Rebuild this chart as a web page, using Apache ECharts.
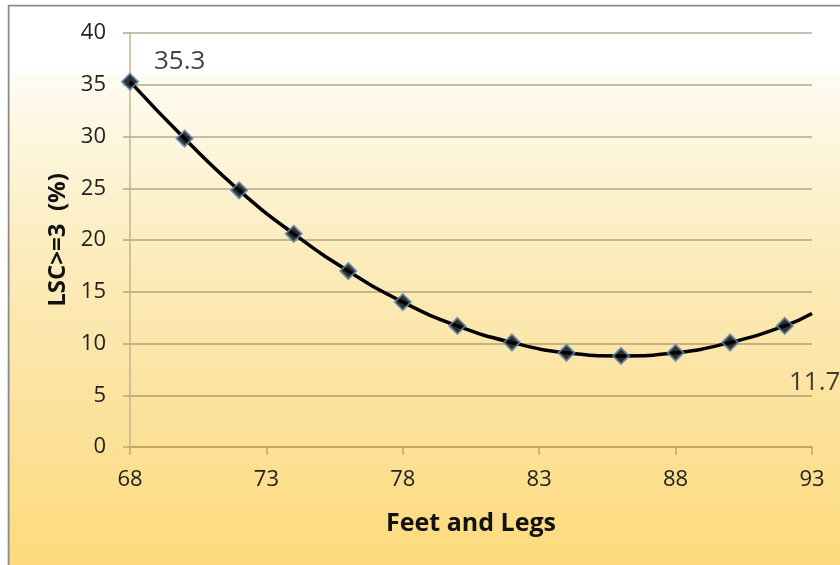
<!DOCTYPE html>
<html>
<head>
<meta charset="utf-8">
<script src="https://cdn.jsdelivr.net/npm/echarts@6/dist/echarts.min.js"></script>
<style>
  html, body { margin: 0; padding: 0; background: #fff; }
  #chart { width: 840px; height: 565px; }
</style>
</head>
<body>
<div id="chart"></div>
<script>
// Share of animals with LSC >= 3 by "Feet and Legs" score
const feetLegs = [68, 70, 72, 74, 76, 78, 80, 82, 84, 86, 88, 90, 92];
const lscPct   = [35.3, 29.8, 24.8, 20.6, 17.0, 14.0, 11.7, 10.1, 9.1, 8.8, 9.1, 10.1, 11.7];
// trend curve continues past the last observation to the axis end
const trendEnd = [93, 12.9];
const xTicks = { min: 68, max: 93, step: 5 };
const yTicks = { min: 0, max: 40, step: 5 };

const FONT = '"Open Sans", "Liberation Sans", sans-serif';
const chart = echarts.init(document.getElementById('chart'));

const pointData = feetLegs.map((x, i) => {
  const item = { value: [x, lscPct[i]] };
  if (i === 0) {
    item.label = { show: true, position: 'right', offset: [10, -20] };
  } else if (i === feetLegs.length - 1) {
    item.label = { show: true, position: 'bottom', offset: [30, 30] };
  }
  return item;
});
const curveData = feetLegs.map((x, i) => [x, lscPct[i]]).concat([trendEnd]);

chart.setOption({
  animation: false,
  backgroundColor: {
    type: 'linear', x: 0, y: 0, x2: 0, y2: 1,
    colorStops: [
      { offset: 0, color: '#ffffff' },
      { offset: 0.12, color: '#ffffff' },
      { offset: 0.14, color: '#fefbf1' },
      { offset: 0.45, color: '#fcecbc' },
      { offset: 0.75, color: '#fce19a' },
      { offset: 1, color: '#fddb7c' }
    ]
  },
  graphic: [
    { type: 'line', shape: { x1: 8.5, y1: 5, x2: 8.5, y2: 565 }, style: { stroke: '#8a8a8a', lineWidth: 2 } },
    { type: 'line', shape: { x1: 8, y1: 5.5, x2: 840, y2: 5.5 }, style: { stroke: '#8a8a8a', lineWidth: 2 } },
    { type: 'rect', shape: { x: 0, y: 0, width: 7.5, height: 565 }, style: { fill: '#ffffff' } },
    { type: 'rect', shape: { x: 0, y: 0, width: 840, height: 4.5 }, style: { fill: '#ffffff' } }
  ],
  grid: { left: 130, right: 28, top: 33, bottom: 118 },
  xAxis: {
    type: 'value',
    min: xTicks.min, max: xTicks.max, interval: xTicks.step,
    name: 'Feet and Legs',
    nameLocation: 'middle',
    nameGap: 64,
    nameTextStyle: { fontFamily: FONT, fontSize: 25, fontWeight: 'bold', color: '#111' },
    axisLine: { lineStyle: { color: '#c8a850', width: 1.5 } },
    axisTick: { show: true, inside: false, length: 8, lineStyle: { color: '#c8a850', width: 1.5 } },
    axisLabel: { fontFamily: FONT, fontSize: 22, color: '#222', margin: 22 },
    splitLine: { show: false }
  },
  yAxis: {
    type: 'value',
    min: yTicks.min, max: yTicks.max, interval: yTicks.step,
    name: 'LSC>=3  (%)',
    nameLocation: 'middle',
    nameGap: 58,
    nameRotate: 90,
    nameTextStyle: { fontFamily: FONT, fontSize: 24, fontWeight: 'bold', color: '#111' },
    axisLine: { show: true, lineStyle: { color: '#c0b490', width: 1.5 } },
    axisTick: { show: true, inside: false, length: 7, lineStyle: { color: '#b8a878', width: 1.5 } },
    axisLabel: { fontFamily: FONT, fontSize: 22, color: '#222', margin: 24 },
    splitLine: { show: true, lineStyle: { color: 'rgba(120,105,70,0.55)', width: 1.5 } }
  },
  series: [
    {
      type: 'line',
      data: curveData,
      smooth: 0.5,
      showSymbol: false,
      lineStyle: { color: '#000', width: 3.5 },
      z: 2
    },
    {
      type: 'scatter',
      data: pointData,
      symbol: 'diamond',
      symbolSize: 16,
      itemStyle: { color: '#000', borderColor: '#5b84b0', borderWidth: 2 },
      label: {
        show: false,
        fontFamily: FONT, fontSize: 26, color: '#111',
        formatter: p => p.value[1].toFixed(1)
      },
      z: 3
    }
  ]
});
</script>
</body>
</html>
